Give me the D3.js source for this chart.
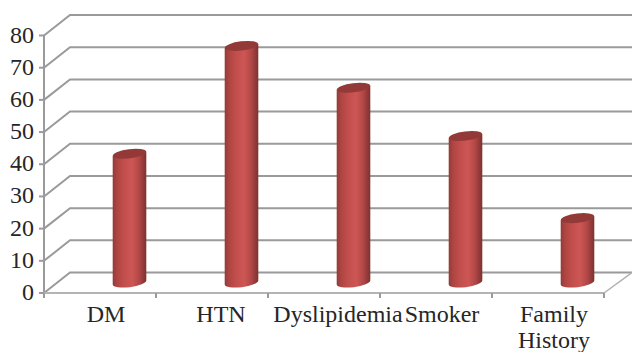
<!DOCTYPE html>
<html>
<head>
<meta charset="utf-8">
<style>
html,body{margin:0;padding:0;background:#fff}
svg{display:block}
text{font-family:"Liberation Serif",serif;fill:#262626}
</style>
<script src="https://cdnjs.cloudflare.com/ajax/libs/d3/7.8.5/d3.min.js"></script>
</head>
<body>
<svg id="chart" width="632" height="352"></svg>
<script>
const categories = ["DM", "HTN", "Dyslipidemia", "Smoker", "Family History"];
const values = [40, 73.5, 60.5, 45.5, 20];
const yTicks = [0, 10, 20, 30, 40, 50, 60, 70, 80];

const svg = d3.select("#chart");
const W = 632;
const frontLeft = 44, frontRight = 604, floorY = 293;
const depthX = 26, depthY = -20.5;
const axisColor = "#9a9a9a";

const x = d3.scaleBand().domain(categories).range([frontLeft, frontRight]);
const y = d3.scaleLinear().domain([0, 80]).range([floorY, 35.5]);

// Cylinder shading: dark rims, lighter band just right of centre
const defs = svg.append("defs");
const grad = defs.append("linearGradient").attr("id", "cyl");
[[0, "#923a38"], [0.12, "#ad4542"], [0.35, "#c24f4c"], [0.58, "#cd5654"], [0.78, "#b34846"], [1, "#7c3130"]]
  .forEach(([o, c]) => grad.append("stop").attr("offset", o).attr("stop-color", c));

// Back wall gridlines and their slanted side-wall segments
const grid = svg.append("g").attr("fill", "none").attr("stroke", axisColor).attr("stroke-width", 2);
grid.selectAll("path.wall").data(yTicks).join("path").attr("class", "wall")
  .attr("d", d => `M${frontLeft},${y(d)}L${frontLeft + depthX},${y(d) + depthY}L${W},${y(d) + depthY}`);
// Floor edge on the right
grid.append("path").attr("d", `M${frontRight},${floorY}L${W},${floorY + depthY}`).attr("stroke-width", 1.5).attr("stroke", "#b0b0b0");

// Front axes and tick marks
const axes = svg.append("g").attr("fill", "none").attr("stroke", axisColor).attr("stroke-width", 2);
axes.append("path").attr("d", `M${frontLeft},${y(80)}V${floorY + 3}`);
axes.append("path").attr("d", `M${frontLeft},${floorY}H${frontRight}`).attr("stroke", "#b4b4b4");
axes.selectAll("path.ytick").data(yTicks).join("path").attr("class", "ytick")
  .attr("d", d => `M${frontLeft - 5},${y(d)}H${frontLeft}`);
axes.selectAll("path.xtick").data(d3.range(categories.length + 1)).join("path").attr("class", "xtick")
  .attr("d", i => { const px = frontLeft + i * x.bandwidth(); return `M${px},${floorY}V${floorY + 5}`; });

// Value-axis labels
svg.append("g").selectAll("text").data(yTicks).join("text")
  .attr("x", 34).attr("y", d => y(d) + 7).attr("text-anchor", "end")
  .attr("font-size", 24).text(d => d);

// Cylinders stand in the middle of the floor depth
const barDX = 29.5, baseY = -10.5;
const rx = 16.8, ry = 4.6, tilt = -7;
const bars = svg.append("g").selectAll("g").data(categories).join("g")
  .attr("transform", d => `translate(${x(d) + x.bandwidth() / 2 + barDX},0)`);
bars.append("path").attr("fill", "url(#cyl)")
  .attr("d", (d, i) => {
    const top = y(values[i]) + baseY, bot = floorY + baseY;
    return `M${-rx},${top + 2}V${bot + 2}A${rx},${ry} ${tilt} 0 0 ${rx},${bot - 2}V${top - 2}Z`;
  });
bars.append("ellipse").attr("rx", rx).attr("ry", ry).attr("fill", "#933a38")
  .attr("transform", (d, i) => `translate(0,${y(values[i]) + baseY}) rotate(${tilt})`);

// Category labels, wrapped to two lines where needed
const labelDX = { "HTN": 3, "Dyslipidemia": 8 };
const labels = svg.append("g").selectAll("text").data(categories).join("text")
  .attr("text-anchor", "middle").attr("font-size", 24);
labels.each(function (d) {
  const cx = x(d) + x.bandwidth() / 2 + 6 + (labelDX[d] || 0);
  d.split(" ").forEach((w, i) => {
    d3.select(this).append("tspan").attr("x", cx).attr("y", 322 + i * 26).text(w);
  });
});
</script>
</body>
</html>
